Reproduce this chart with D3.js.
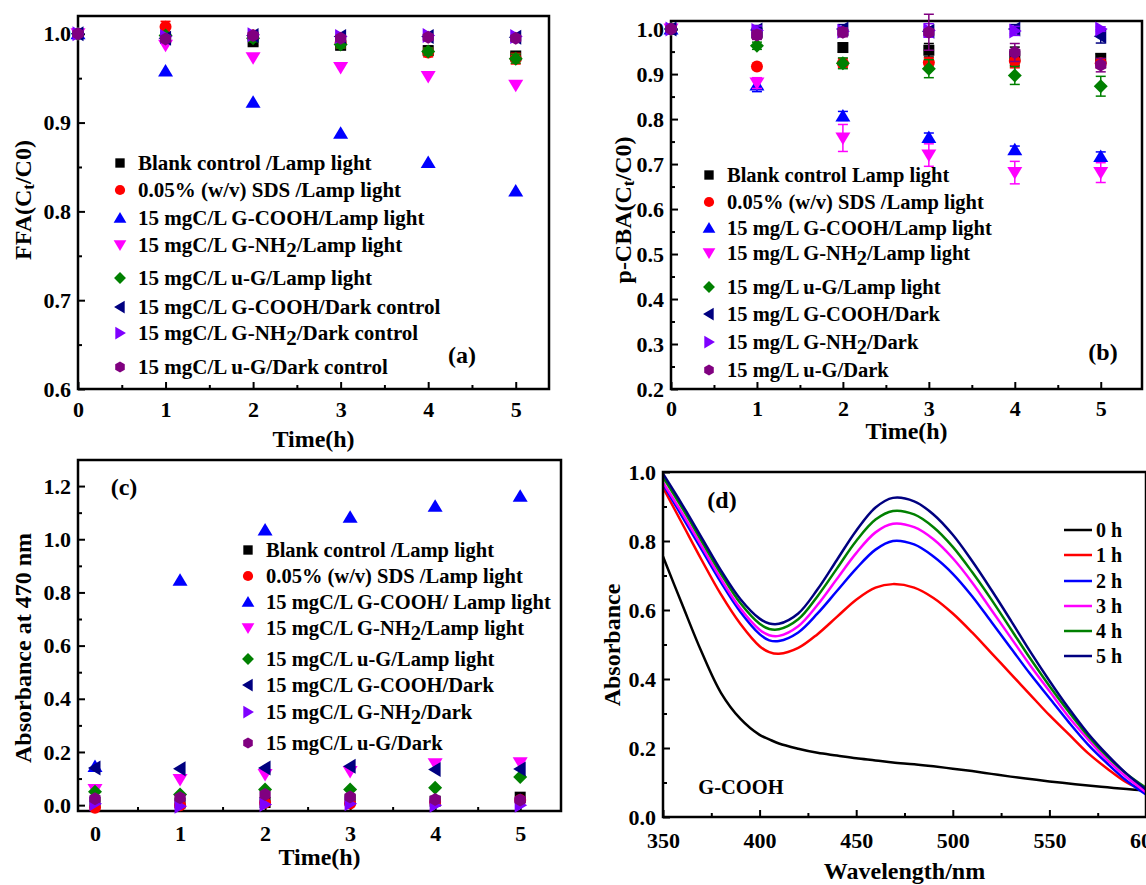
<!DOCTYPE html>
<html>
<head>
<meta charset="utf-8">
<script src="https://cdn.jsdelivr.net/npm/d3@7"></script>
<style>
  body { margin: 0; background: #fff; }
  svg { display: block; font-family: "Liberation Serif", "Times New Roman", serif; font-weight: bold; }
</style>
</head>
<body>
<svg id="chart" width="1146" height="885"></svg>
<script>
// ---- data ----
const timeH = [0, 1, 2, 3, 4, 5];

// (a) FFA
const ffaBlank     = [1.000, 0.995, 0.991, 0.987, 0.981, 0.975];
const ffaSds       = [1.000, 1.008, 0.998, 0.990, 0.979, 0.972];
const ffaCooh      = [1.000, 0.958, 0.923, 0.888, 0.855, 0.823];
const ffaNh2       = [1.000, 0.987, 0.973, 0.962, 0.952, 0.942];
const ffaUg        = [1.000, 0.998, 0.995, 0.988, 0.980, 0.972];
const ffaCoohDark  = [1.000, 0.995, 0.998, 0.997, 0.997, 0.996];
const ffaNh2Dark   = [1.000, 0.997, 0.999, 0.997, 0.998, 0.997];
const ffaUgDark    = [1.000, 0.994, 0.998, 0.995, 0.996, 0.995];
const ffaBlankErr  = [0, 0.003, 0.004, 0.004, 0.005, 0.004];
const ffaSdsErr    = [0, 0.006, 0.005, 0.006, 0.005, 0.006];
const ffaUgErr     = [0, 0.003, 0.004, 0.004, 0.004, 0.005];

// (b) p-CBA
const pcbaBlank    = [1.000, 0.991, 0.959, 0.953, 0.940, 0.935];
const pcbaSds      = [1.000, 0.917, 0.924, 0.926, 0.929, 0.924];
const pcbaCooh     = [1.000, 0.876, 0.807, 0.759, 0.732, 0.717];
const pcbaNh2      = [1.000, 0.880, 0.758, 0.720, 0.681, 0.681];
const pcbaUg       = [1.000, 0.963, 0.924, 0.912, 0.897, 0.873];
const pcbaCoohDark = [1.000, 0.998, 1.000, 0.995, 1.000, 0.984];
const pcbaNh2Dark  = [1.000, 0.997, 0.995, 0.997, 0.996, 1.000];
const pcbaUgDark   = [1.000, 0.987, 0.993, 0.993, 0.948, 0.920];
const pcbaBlankErr    = [0, 0.010, 0.010, 0.015, 0.020, 0.010];
const pcbaSdsErr      = [0, 0.000, 0.010, 0.010, 0.015, 0.010];
const pcbaCoohErr     = [0, 0.015, 0.010, 0.010, 0.008, 0.010];
const pcbaNh2Err      = [0, 0.012, 0.030, 0.025, 0.025, 0.022];
const pcbaUgErr       = [0, 0.008, 0.012, 0.020, 0.020, 0.022];
const pcbaCoohDarkErr = [0, 0.010, 0.010, 0.010, 0.010, 0.015];
const pcbaNh2DarkErr  = [0, 0.010, 0.005, 0.015, 0.010, 0.005];
const pcbaUgDarkErr   = [0, 0.010, 0.010, 0.040, 0.020, 0.015];

// (c) absorbance at 470 nm
const absBlank     = [0.010, 0.008, 0.010, 0.020, 0.015, 0.030];
const absSds       = [-0.010, 0.000, 0.009, 0.006, 0.012, 0.019];
const absCooh      = [0.145, 0.846, 1.035, 1.083, 1.124, 1.162];
const absNh2       = [0.059, 0.096, 0.115, 0.127, 0.156, 0.159];
const absUg        = [0.050, 0.040, 0.059, 0.059, 0.065, 0.106];
const absCoohDark  = [0.140, 0.137, 0.140, 0.146, 0.134, 0.136];
const absNh2Dark   = [0.005, -0.004, 0.002, 0.005, 0.000, 0.000];
const absUgDark    = [0.024, 0.028, 0.040, 0.031, 0.021, 0.019];

// (d) spectra of G-COOH
const wavelength = [350, 360, 370, 380, 390, 400, 405, 410, 420, 430, 440, 450, 460, 469,
                    480, 490, 500, 510, 520, 530, 540, 550, 560, 570, 580, 590, 600];
const spec0h = [0.755, 0.615, 0.478, 0.360, 0.285, 0.238, 0.225, 0.213, 0.198, 0.186, 0.178, 0.170, 0.164, 0.158,
                0.153, 0.147, 0.140, 0.133, 0.125, 0.117, 0.110, 0.103, 0.097, 0.091, 0.086, 0.081, 0.077];
const spec1h = [0.955, 0.850, 0.745, 0.645, 0.560, 0.495, 0.478, 0.473, 0.490, 0.530, 0.580, 0.630, 0.665, 0.675,
                0.665, 0.635, 0.590, 0.535, 0.475, 0.415, 0.355, 0.295, 0.240, 0.185, 0.140, 0.100, 0.075];
const spec2h = [0.965, 0.870, 0.775, 0.680, 0.595, 0.530, 0.512, 0.510, 0.535, 0.590, 0.655, 0.720, 0.775, 0.800,
                0.790, 0.755, 0.705, 0.640, 0.565, 0.490, 0.415, 0.345, 0.275, 0.210, 0.155, 0.105, 0.065];
const spec3h = [0.970, 0.880, 0.785, 0.690, 0.605, 0.543, 0.527, 0.525, 0.553, 0.615, 0.690, 0.765, 0.825, 0.850,
                0.840, 0.805, 0.750, 0.680, 0.600, 0.520, 0.440, 0.365, 0.290, 0.225, 0.165, 0.115, 0.072];
const spec4h = [0.985, 0.895, 0.800, 0.705, 0.620, 0.560, 0.545, 0.544, 0.573, 0.640, 0.720, 0.800, 0.862, 0.887,
                0.877, 0.840, 0.783, 0.710, 0.630, 0.545, 0.460, 0.380, 0.305, 0.235, 0.175, 0.125, 0.085];
const spec5h = [0.995, 0.905, 0.810, 0.715, 0.632, 0.575, 0.561, 0.560, 0.590, 0.660, 0.745, 0.830, 0.897, 0.925,
                0.915, 0.877, 0.818, 0.742, 0.658, 0.570, 0.480, 0.395, 0.315, 0.242, 0.180, 0.125, 0.080];
const specLabels = ['0 h', '1 h', '2 h', '3 h', '4 h', '5 h'];
const specColors = ['#000000', '#ff0000', '#0000ff', '#ff00ff', '#008000', '#000080'];

// legend texts ("_2" = lowered 2, "~t" = small subscript)
const legendA = ['Blank control /Lamp light', '0.05% (w/v) SDS /Lamp light', '15 mgC/L G-COOH/Lamp light',
  '15 mgC/L G-NH_2/Lamp light', '15 mgC/L u-G/Lamp light', '15 mgC/L G-COOH/Dark control',
  '15 mgC/L G-NH_2/Dark control', '15 mgC/L u-G/Dark control'];
const legendB = ['Blank control Lamp light', '0.05% (w/v) SDS /Lamp light', '15 mg/L G-COOH/Lamp light',
  '15 mg/L G-NH_2/Lamp light', '15 mg/L u-G/Lamp light', '15 mg/L G-COOH/Dark',
  '15 mg/L G-NH_2/Dark', '15 mg/L u-G/Dark'];
const legendC = ['Blank control /Lamp light', '0.05% (w/v) SDS /Lamp light', '15 mgC/L G-COOH/ Lamp light',
  '15 mgC/L G-NH_2/Lamp light', '15 mgC/L u-G/Lamp light', '15 mgC/L G-COOH/Dark',
  '15 mgC/L G-NH_2/Dark', '15 mgC/L u-G/Dark'];

const markerTypes  = ['square', 'circle', 'triUp', 'triDown', 'diamond', 'triLeft', 'triRight', 'hexagon'];
const markerColors = ['#000000', '#ff0000', '#0000ff', '#ff00ff', '#008000', '#000080', '#7f00ff', '#800080'];

const svg = d3.select('#chart');

function markerPath(type, k) {
  k = k || 1;
  const p = d3.path();
  const pts = {
    square:   [[-5.5, -5.5], [5.5, -5.5], [5.5, 5.5], [-5.5, 5.5]],
    triUp:    [[0, -7], [7.5, 5.5], [-7.5, 5.5]],
    triDown:  [[0, 7], [7.5, -5.5], [-7.5, -5.5]],
    triLeft:  [[-7, 0], [5.5, -7.5], [5.5, 7.5]],
    triRight: [[7, 0], [-5.5, -7.5], [-5.5, 7.5]],
    diamond:  [[0, -7], [7, 0], [0, 7], [-7, 0]],
    hexagon:  d3.range(6).map(i => [6.5 * Math.cos(Math.PI / 3 * i - Math.PI / 2), 6.5 * Math.sin(Math.PI / 3 * i - Math.PI / 2)])
  };
  if (type == 'circle') {
    p.arc(0, 0, 6 * k, 0, 2 * Math.PI);
    return p.toString();
  }
  pts[type].forEach((d, i) => i ? p.lineTo(d[0] * k, d[1] * k) : p.moveTo(d[0] * k, d[1] * k));
  p.closePath();
  return p.toString();
}

// text with "_2" (lowered, same size) and "~t" (small subscript)
function richText(sel, str) {
  const parts = str.split(/(_.|~.)/).filter(s => s.length);
  let shifted = 0;
  parts.forEach(s => {
    if (s[0] == '_') {
      sel.append('tspan').attr('dy', 5).text(s[1]);
      shifted = 5;
    } else if (s[0] == '~') {
      sel.append('tspan').attr('dy', 3).attr('font-size', '0.7em').text(s[1]);
      shifted = 3;
    } else {
      sel.append('tspan').attr('dy', -shifted).text(s);
      shifted = 0;
    }
  });
}

function drawAxes(o, x, y) {
  const g = svg.append('g');
  const styleTicks = sel => {
    sel.select('.domain').remove();
    sel.selectAll('line').attr('stroke', '#000').attr('stroke-width', 2);
    sel.selectAll('text').attr('font-size', 22).attr('font-weight', 'bold')
      .attr('font-family', '"Liberation Serif", serif').attr('fill', '#000');
  };
  g.append('g').attr('transform', `translate(0,${o.bottom})`)
    .call(d3.axisBottom(x).tickValues(o.xTicks).tickFormat(o.xFormat).tickSizeInner(-7).tickSizeOuter(0).tickPadding(o.xPad))
    .call(styleTicks);
  g.append('g').attr('transform', `translate(0,${o.bottom})`)
    .call(d3.axisBottom(x).tickValues(o.xMinor).tickFormat('').tickSizeInner(-4).tickSizeOuter(0))
    .call(styleTicks);
  g.append('g').attr('transform', `translate(${o.left},0)`)
    .call(d3.axisLeft(y).tickValues(o.yTicks).tickFormat(d3.format('.1f')).tickSizeInner(-7).tickSizeOuter(0).tickPadding(7))
    .call(styleTicks);
  g.append('g').attr('transform', `translate(${o.left},0)`)
    .call(d3.axisLeft(y).tickValues(o.yMinor).tickFormat('').tickSizeInner(-4).tickSizeOuter(0))
    .call(styleTicks);
  svg.append('rect')
    .attr('x', o.left).attr('y', o.top)
    .attr('width', o.right - o.left).attr('height', o.bottom - o.top)
    .attr('fill', 'none').attr('stroke', '#000').attr('stroke-width', 2.5);
  svg.append('text').attr('x', (o.left + o.right) / 2).attr('y', o.xTitleY)
    .attr('text-anchor', 'middle').attr('font-size', 24).text(o.xTitle);
  const yt = svg.append('text')
    .attr('transform', `translate(${o.yTitleX},${o.yTitleY}) rotate(-90)`)
    .attr('text-anchor', 'middle').attr('font-size', 24);
  richText(yt, o.yTitle);
}

function scatterPanel(o) {
  const x = d3.scaleLinear().domain(o.xDomain).range([o.left, o.right]);
  const y = d3.scaleLinear().domain(o.yDomain).range([o.bottom, o.top]);
  drawAxes(o, x, y);

  const plot = svg.append('g');
  o.series.forEach((vals, i) => {
    const err = o.errors[i];
    const rows = timeH.map((t, j) => ({ t: t, v: vals[j], e: err ? err[j] : 0 }));
    const s = plot.append('g');
    s.selectAll('path.mk').data(rows).enter().append('path')
      .attr('class', 'mk')
      .attr('transform', d => `translate(${x(d.t)},${y(d.v)})`)
      .attr('d', markerPath(markerTypes[i]))
      .attr('fill', markerColors[i]);
    const eb = s.selectAll('g.eb').data(rows.filter(d => d.e > 0)).enter().append('g')
      .attr('stroke', markerColors[i]).attr('stroke-width', 1.5);
    eb.append('line').attr('x1', d => x(d.t)).attr('x2', d => x(d.t))
      .attr('y1', d => y(d.v - d.e)).attr('y2', d => y(d.v + d.e));
    eb.append('line').attr('x1', d => x(d.t) - 5).attr('x2', d => x(d.t) + 5)
      .attr('y1', d => y(d.v - d.e)).attr('y2', d => y(d.v - d.e));
    eb.append('line').attr('x1', d => x(d.t) - 5).attr('x2', d => x(d.t) + 5)
      .attr('y1', d => y(d.v + d.e)).attr('y2', d => y(d.v + d.e));
  });

  const lg = svg.append('g');
  o.legend.forEach((label, i) => {
    lg.append('path')
      .attr('transform', `translate(${o.legX},${o.legY[i]})`)
      .attr('d', markerPath(markerTypes[i], 0.85))
      .attr('fill', markerColors[i]);
    const t = lg.append('text').attr('x', o.legX + 18).attr('y', o.legY[i] + 7)
      .attr('font-size', o.legFont);
    richText(t, label);
  });
  svg.append('text').attr('x', o.tagX).attr('y', o.tagY + 8)
    .attr('text-anchor', 'middle').attr('font-size', 24).text(o.tag);
}

const xTicks = [0, 1, 2, 3, 4, 5];
const xMinor = [0.5, 1.5, 2.5, 3.5, 4.5];

scatterPanel({
  left: 78, right: 549, top: 16, bottom: 389,
  xDomain: [0, 5.38], yDomain: [0.6, 1.02],
  xTicks: xTicks, xMinor: xMinor, xFormat: d3.format('d'), xPad: 12,
  yTicks: [0.6, 0.7, 0.8, 0.9, 1.0], yMinor: [0.65, 0.75, 0.85, 0.95],
  xTitle: 'Time(h)', xTitleY: 447, yTitle: 'FFA(C~t/C0)', yTitleX: 31, yTitleY: 200,
  series: [ffaBlank, ffaSds, ffaCooh, ffaNh2, ffaUg, ffaCoohDark, ffaNh2Dark, ffaUgDark],
  errors: [ffaBlankErr, ffaSdsErr, null, null, ffaUgErr, null, null, null],
  legend: legendA, legX: 120, legY: [163, 190, 218, 245, 278, 307, 333, 367], legFont: 21,
  tag: '(a)', tagX: 462, tagY: 355
});

scatterPanel({
  left: 671, right: 1142, top: 21, bottom: 389,
  xDomain: [0, 5.48], yDomain: [0.2, 1.018],
  xTicks: xTicks, xMinor: xMinor, xFormat: d3.format('d'), xPad: 11,
  yTicks: [0.2, 0.3, 0.4, 0.5, 0.6, 0.7, 0.8, 0.9, 1.0], yMinor: [0.25, 0.35, 0.45, 0.55, 0.65, 0.75, 0.85, 0.95],
  xTitle: 'Time(h)', xTitleY: 439, yTitle: 'p-CBA(C~t/C0)', yTitleX: 631, yTitleY: 210,
  series: [pcbaBlank, pcbaSds, pcbaCooh, pcbaNh2, pcbaUg, pcbaCoohDark, pcbaNh2Dark, pcbaUgDark],
  errors: [pcbaBlankErr, pcbaSdsErr, pcbaCoohErr, pcbaNh2Err, pcbaUgErr, pcbaCoohDarkErr, pcbaNh2DarkErr, pcbaUgDarkErr],
  legend: legendB, legX: 709, legY: [175, 202, 228, 253, 287, 314, 342, 370], legFont: 20.5,
  tag: '(b)', tagX: 1103, tagY: 352
});

scatterPanel({
  left: 78, right: 561, top: 460, bottom: 811,
  xDomain: [-0.2, 5.48], yDomain: [-0.022, 1.298],
  xTicks: xTicks, xMinor: xMinor, xFormat: d3.format('d'), xPad: 14,
  yTicks: [0, 0.2, 0.4, 0.6, 0.8, 1.0, 1.2], yMinor: [0.1, 0.3, 0.5, 0.7, 0.9, 1.1],
  xTitle: 'Time(h)', xTitleY: 865, yTitle: 'Absorbance at 470 nm', yTitleX: 31, yTitleY: 648,
  series: [absBlank, absSds, absCooh, absNh2, absUg, absCoohDark, absNh2Dark, absUgDark],
  errors: [null, null, null, null, null, null, null, null],
  legend: legendC, legX: 248, legY: [550, 576, 602, 628, 659, 685, 712, 743], legFont: 20.5,
  tag: '(c)', tagX: 124, tagY: 487
});

// (d) spectra
(function () {
  const o = {
    left: 663, right: 1146, top: 472, bottom: 817,
    xTicks: [350, 400, 450, 500, 550, 600], xMinor: [375, 425, 475, 525, 575], xFormat: d3.format('d'), xPad: 15,
    yTicks: [0, 0.2, 0.4, 0.6, 0.8, 1.0], yMinor: [0.1, 0.3, 0.5, 0.7, 0.9],
    xTitle: 'Wavelength/nm', xTitleY: 879, yTitle: 'Absorbance', yTitleX: 620, yTitleY: 645
  };
  const x = d3.scaleLinear().domain([350, 600]).range([o.left, o.right]);
  const y = d3.scaleLinear().domain([0, 1]).range([o.bottom, o.top]);
  const specs = [spec0h, spec1h, spec2h, spec3h, spec4h, spec5h];
  const line = d3.line()
    .x((d, i) => x(wavelength[i]))
    .y(d => y(d))
    .curve(d3.curveCatmullRom.alpha(0.5));
  svg.append('defs').append('clipPath').attr('id', 'clipD')
    .append('rect').attr('x', o.left).attr('y', o.top).attr('width', o.right - o.left).attr('height', o.bottom - o.top);
  const g = svg.append('g').attr('clip-path', 'url(#clipD)');
  specs.forEach((s, i) => {
    g.append('path').attr('d', line(s)).attr('fill', 'none')
      .attr('stroke', specColors[i]).attr('stroke-width', 2.5);
  });
  drawAxes(o, x, y);

  const legY = [530, 555, 581, 606, 631, 656];
  specLabels.forEach((label, i) => {
    svg.append('line').attr('x1', 1064).attr('x2', 1092).attr('y1', legY[i]).attr('y2', legY[i])
      .attr('stroke', specColors[i]).attr('stroke-width', 2.5);
    svg.append('text').attr('x', 1096).attr('y', legY[i] + 7).attr('font-size', 20).text(label);
  });
  svg.append('text').attr('x', 722).attr('y', 508).attr('text-anchor', 'middle').attr('font-size', 24).text('(d)');
  svg.append('text').attr('x', 741).attr('y', 794).attr('text-anchor', 'middle').attr('font-size', 20.5).text('G-COOH');
})();
</script>
</body>
</html>
